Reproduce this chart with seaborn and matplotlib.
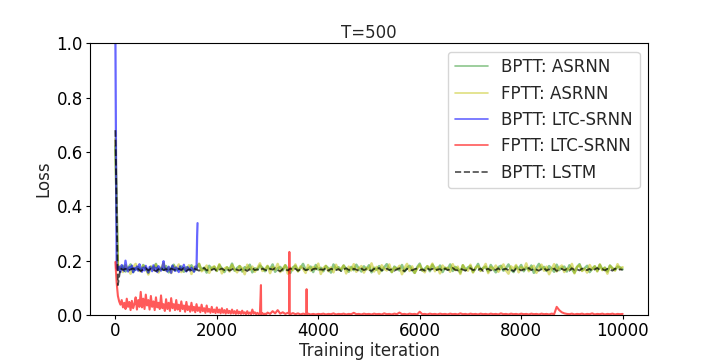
import numpy as np
import pandas as pd
import matplotlib
matplotlib.use("Agg")
import matplotlib.pyplot as plt
import seaborn as sns

# ---------------- data (loss values in thousandths) ----------------
step_main = 50
bptt_asrnn = [
    620, 175, 168, 181, 160, 172, 186, 158, 170, 177, 163, 184, 169, 155, 178, 171, 188, 162, 174, 166,
    180, 157, 173, 185, 164, 170, 179, 159, 176, 168, 183, 161, 172, 187, 165, 174, 156, 181, 169, 177,
    162, 184, 171, 158, 175, 167, 189, 163, 173, 180,
    160, 176, 170, 185, 157, 172, 166, 182, 174, 161, 179, 168, 186, 159, 171, 177, 164, 183, 169, 155,
    175, 181, 162, 173, 188, 166, 170, 178, 158, 184, 167, 174, 161, 180, 172, 156, 186, 169, 176, 163,
    182, 170, 159, 177, 165, 185, 171, 160, 179, 168,
    183, 157, 174, 166, 180, 162, 175, 187, 169, 158, 178, 171, 164, 184, 160, 173, 181, 167, 155, 176,
    189, 163, 170, 179, 161, 185, 172, 166, 182, 158, 174, 168, 186, 162, 177, 170, 156, 183, 165, 175,
    180, 159, 171, 188, 164, 173, 178, 160, 184, 169,
    157, 176, 181, 163, 172, 186, 167, 158, 179, 170, 184, 161, 175, 166, 182, 155, 173, 188, 169, 177,
    162, 180, 171, 159, 185, 165, 174, 178, 160, 183, 168, 156, 176, 187, 164, 172, 181, 158, 170, 179,
    163, 185, 167, 174, 160, 182, 171, 166, 178, 175, 168,
]
fptt_asrnn = [
    650, 164, 179, 158, 183, 170, 152, 176, 188, 166, 160, 181, 173, 149, 178, 167, 185, 156, 171, 190,
    162, 175, 154, 180, 169, 186, 158, 172, 165, 183, 151, 177, 170, 189, 161, 168, 182, 155, 174, 179,
    163, 187, 153, 171, 176, 160, 184, 168, 157, 180,
    172, 150, 185, 166, 178, 159, 173, 190, 162, 169, 181, 154, 176, 167, 188, 158, 171, 183, 152, 174,
    165, 186, 160, 179, 170, 155, 184, 163, 177, 168, 189, 151, 173, 181, 161, 175, 157, 185, 166, 170,
    182, 153, 178, 164, 187, 159, 172, 180, 156, 174,
    167, 190, 160, 177, 152, 183, 170, 164, 186, 158, 175, 168, 181, 150, 173, 188, 162, 179, 155, 171,
    184, 166, 157, 180, 172, 189, 161, 176, 153, 182, 169, 174, 159, 187, 165, 178, 151, 183, 170, 163,
    185, 156, 175, 180, 162, 171, 188, 154, 177, 168,
    182, 159, 173, 186, 164, 152, 179, 170, 184, 157, 176, 167, 190, 161, 174, 181, 155, 172, 185, 163,
    178, 150, 169, 187, 160, 175, 182, 158, 171, 166, 188, 153, 177, 183, 162, 170, 156, 184, 168, 179,
    160, 186, 165, 174, 152, 181, 172, 163, 187, 169, 176,
]
bptt_lstm = [
    680, 110, 172, 166, 170, 163, 168, 171, 165, 169, 162, 167, 172, 164, 170, 166, 161, 168, 173, 165,
    169, 163, 171, 167, 164, 170, 166, 172, 162, 168, 165, 171, 167, 163, 169, 173, 164, 168, 166, 170,
    162, 167, 171, 165, 169, 163, 168, 172, 166, 164,
    170, 167, 162, 169, 173, 165, 168, 164, 171, 166, 163, 170, 167, 172, 165, 161, 169, 168, 164, 171,
    166, 170, 163, 168, 172, 165, 167, 162, 169, 171, 164, 168, 166, 173, 163, 170, 167, 165, 169, 162,
    168, 172, 166, 164, 170, 167, 163, 171, 165, 169,
    166, 162, 170, 168, 173, 164, 167, 171, 165, 169, 163, 168, 172, 166, 161, 170, 167, 164, 169, 171,
    165, 168, 163, 172, 166, 170, 164, 167, 169, 162, 171, 165, 168, 173, 166, 164, 170, 167, 163, 169,
    172, 165, 168, 166, 171, 162, 167, 170, 164, 169,
    166, 172, 163, 168, 170, 165, 167, 161, 171, 169, 164, 168, 166, 173, 165, 170, 167, 163, 169, 172,
    164, 168, 166, 171, 162, 167, 170, 165, 169, 163, 172, 166, 168, 164, 171, 167, 165, 170, 162, 168,
    173, 166, 169, 164, 170, 167, 163, 171, 165, 168, 166,
]
step_fine = 25
bptt_ltc = [
    1050, 172, 165, 178, 158, 184, 169, 162, 200, 171, 160, 176, 168, 182, 157, 173, 166, 179, 163, 187,
    170, 159, 175, 164, 181, 168, 156, 177, 172, 161, 183, 166, 174, 158, 180, 169, 163, 176, 198, 165,
    171, 160, 178, 167, 155, 182, 173, 162, 175, 168, 158, 179, 164, 171, 185, 166, 160, 176, 169, 163,
    174, 167, 159, 178, 170,
]
bptt_ltc_tail_iter = [1612, 1620]
bptt_ltc_tail = [290, 338]

# FPTT LTC-SRNN: every 25 iterations up to 2975, then every 50 iterations
fptt_ltc_early = [
    195, 120, 70, 50, 38, 55, 28, 45, 22, 60,
    30, 48, 18, 52, 25, 40, 65, 20, 55, 30,
    85, 28, 60, 22, 75, 35, 55, 20, 70, 30,
    50, 18, 65, 28, 45, 22, 72, 25, 40, 15,
    58, 22, 45, 15, 62, 25, 40, 18, 55, 20,
    38, 14, 50, 22, 35, 12, 48, 18, 32, 12,
    45, 16, 30, 10, 40, 15, 28, 10, 38, 14,
    25, 8, 35, 12, 22, 8, 30, 10, 20, 7,
    28, 9, 20, 6, 25, 8, 18, 5, 22, 7,
    15, 5, 20, 6, 14, 4, 18, 5, 12, 4,
    16, 5, 10, 3, 14, 4, 9, 3, 20, 5,
    10, 3, 8, 3, 6, 3, 7, 2, 5, 3,
]
fptt_ltc_late = [
    9, 4, 14, 6, 18, 5, 10, 4, 8, 3,
    7, 3, 6, 2, 5, 3, 5, 2, 4, 2,
    4, 3, 5, 2, 4, 3, 6, 2, 4, 3,
    5, 2, 4, 3, 8, 3, 4, 2, 5, 3,
    4, 2, 5, 3, 4, 2, 6, 3, 4, 2,
    5, 3, 9, 3, 4, 2, 5, 3, 4, 2,
    12, 3, 4, 2, 5, 3, 4, 2, 5, 3,
    4, 2, 5, 3, 4, 2, 6, 3, 4, 2,
    5, 3, 4, 2, 5, 3, 4, 2, 5, 3,
    4, 2, 6, 3, 4, 2, 5, 3, 4, 2,
    5, 3, 4, 2, 5, 3, 4, 2, 5, 3,
    4, 2, 5, 3, 30, 18, 10, 6, 4, 3,
    5, 2, 4, 3, 5, 2, 4, 3, 6, 2,
    4, 3, 5, 2, 4, 3, 5, 2, 4, 3,
    4,
]
fptt_ltc_spike_iter = [2870, 3425, 3430, 3435, 3765, 3770, 3775]
fptt_ltc_spike = [110, 5, 232, 5, 4, 95, 4]

labels = ["BPTT: ASRNN", "FPTT: ASRNN", "BPTT: LTC-SRNN", "FPTT: LTC-SRNN", "BPTT: LSTM"]

# ---------------- build frames ----------------
def frame(iters, vals):
    return pd.DataFrame({"it": np.asarray(iters, float), "loss": np.asarray(vals, float) / 1000.0})

df_g = frame(np.arange(len(bptt_asrnn)) * step_main, bptt_asrnn)
df_y = frame(np.arange(len(fptt_asrnn)) * step_main, fptt_asrnn)
df_k = frame(np.arange(len(bptt_lstm)) * step_main, bptt_lstm)
df_b = frame(list(np.arange(len(bptt_ltc)) * step_fine) + bptt_ltc_tail_iter, bptt_ltc + bptt_ltc_tail)
red_iters = (list(np.arange(len(fptt_ltc_early)) * step_fine)
             + list(len(fptt_ltc_early) * step_fine + np.arange(len(fptt_ltc_late)) * step_main)
             + fptt_ltc_spike_iter)
df_r = frame(red_iters, fptt_ltc_early + fptt_ltc_late + fptt_ltc_spike)
df_r = df_r.sort_values("it", kind="stable").reset_index(drop=True)

# ---------------- plot ----------------
sns.set_style("ticks")
plt.rcParams["font.family"] = ["DejaVu Sans"]
fs = 12

fig, ax = plt.subplots(figsize=(7.2, 3.6), dpi=100)
fig.subplots_adjust(left=0.125, right=0.9, bottom=0.125, top=0.88)

sns.lineplot(data=df_g, x="it", y="loss", ax=ax, color="g", alpha=0.45, lw=1.8,
             estimator=None, sort=False, label=labels[0])
sns.lineplot(data=df_y, x="it", y="loss", ax=ax, color="y", alpha=0.5, lw=1.8,
             estimator=None, sort=False, label=labels[1])
sns.lineplot(data=df_b, x="it", y="loss", ax=ax, color="b", alpha=0.6, lw=1.6,
             estimator=None, sort=False, label=labels[2])
sns.lineplot(data=df_r, x="it", y="loss", ax=ax, color="r", alpha=0.65, lw=1.5,
             estimator=None, sort=False, label=labels[3])
sns.lineplot(data=df_k, x="it", y="loss", ax=ax, color="k", alpha=0.7, lw=1.3,
             estimator=None, sort=False, label=labels[4], linestyle="--")

ax.set_ylim(0, 1.0)
ax.set_xlim(-500, 10500)
ax.set_yticks([0.0, 0.2, 0.4, 0.6, 0.8, 1.0])
ax.set_xticks([0, 2000, 4000, 6000, 8000, 10000])
ax.tick_params(labelsize=fs, direction="out", length=2.6, width=0.8, pad=2.5, colors="black")
for s in ax.spines.values():
    s.set_visible(True)
    s.set_color("black")
    s.set_linewidth(0.8)
ax.set_xlabel("Training iteration", fontsize=fs, labelpad=1.5)
ax.set_ylabel("Loss", fontsize=fs, labelpad=3)
ax.set_title("T=500", fontsize=fs, pad=4)
leg = ax.legend(loc="upper right", fontsize=fs, frameon=True)
leg.get_frame().set_edgecolor("#cccccc")
for h in leg.get_lines():
    h.set_linewidth(1.2)

fig.savefig("out.png", dpi=100)
